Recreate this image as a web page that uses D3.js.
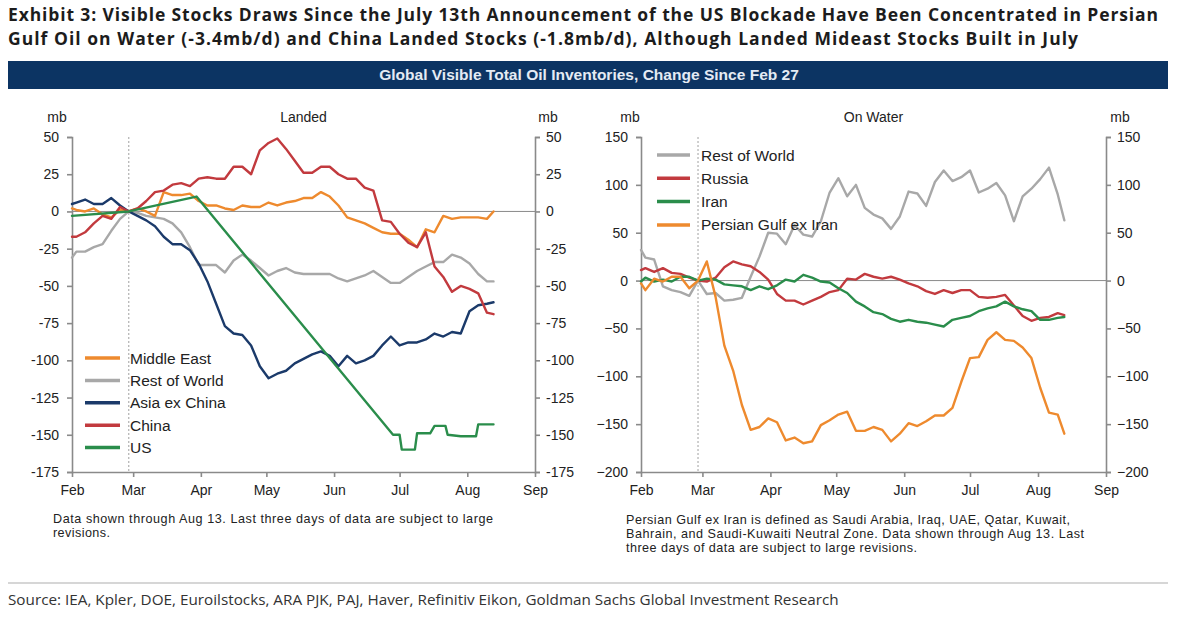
<!DOCTYPE html>
<meta charset="utf-8">
<script src="https://cdn.jsdelivr.net/npm/d3@7"></script>
<style>
  body { margin: 0; background: #fff; }
  svg text { font-family: "Liberation Sans", Arial, sans-serif; }
</style>
<svg id="chart" width="1200" height="628"></svg>
<script>
// ---- data (mb, change since Feb 27) ----
const gridDates = ["02-01","02-03","02-07","02-11","02-15","02-19","02-23","02-27",
  "03-03","03-07","03-11","03-15","03-19","03-23","03-27","03-31",
  "04-04","04-08","04-12","04-16","04-20","04-24","04-28","05-02",
  "05-06","05-10","05-14","05-18","05-22","05-26","05-30","06-03",
  "06-07","06-11","06-15","06-19","06-23","06-27","07-01","07-05",
  "07-09","07-13","07-17","07-21","07-25","07-29","08-02","08-06",
  "08-10","08-13"];

// Landed
const landedMiddleEast = [2,1,0,2,-2,-4,1,0,2,0,-3,13,11,11,12,7,4,4,2,1,4,3,3,6,4,6,7,9,9,13,10,4,-4,-6,-8,-11,-14,-15,-15,-19,-24,-12,-14,-3,-5,-4,-4,-4,-5,0];
const landedRestOfWorld = [-31,-27,-27,-24,-22,-13,-5,0,-1,-3,-4,-5,-8,-14,-24,-36,-36,-36,-41,-33,-29,-33,-38,-43,-40,-38,-41,-42,-42,-42,-42,-45,-47,-45,-43,-40,-44,-48,-48,-44,-40,-37,-34,-34,-29,-31,-35,-42,-47,-47];
const landedAsiaExChina = [5,6,8,5,5,9,4,0,-3,-6,-10,-17,-22,-22,-26,-35,-47,-62,-77,-82,-83,-90,-104,-112,-109,-107,-102,-99,-96,-94,-97,-104,-97,-102,-100,-97,-90,-84,-90,-88,-88,-86,-82,-84,-81,-82,-67,-63,-62,-61];
const landedChina = [-17,-17,-14,-8,-3,-5,3,0,2,7,13,14,18,19,17,22,23,22,22,30,30,25,41,46,49,42,34,26,26,30,30,25,22,22,16,14,-6,-7,-15,-21,-24,-14,-37,-44,-54,-50,-52,-55,-68,-69];
const usDates = ["02-01","02-27","03-30","06-28","07-01","07-02","07-08","07-09","07-15","07-17","07-22","07-23","07-29","08-05","08-06","08-13"];
const usValues = [-3,0,10,-150,-150,-160,-160,-149,-149,-144,-144,-150,-151,-151,-143,-143];

// On water
const waterRestOfWorld = [32,24,22,-6,-10,-12,-16,0,-14,-13,-21,-20,-18,4,25,50,49,38,58,48,46,62,92,107,88,100,76,69,65,54,67,93,91,78,103,115,104,108,115,92,96,102,89,62,88,96,106,118,90,63];
const waterRussia = [11,13,9,13,8,7,3,0,-1,3,14,20,17,15,9,1,-14,-21,-21,-25,-21,-17,-12,-10,2,1,7,4,2,4,1,-3,-6,-11,-14,-10,-13,-10,-10,-17,-18,-17,-15,-26,-37,-42,-39,-38,-34,-36];
const waterIran = [-1,3,-1,1,-1,4,4,0,2,1,-4,-5,-6,-10,-6,-9,-5,1,-1,6,3,-1,-2,-8,-13,-22,-27,-33,-35,-40,-43,-41,-43,-44,-46,-48,-41,-39,-37,-32,-29,-27,-22,-27,-30,-32,-41,-41,-39,-38];
const waterPersianGulf = [-3,-10,2,-1,4,4,-8,0,20,-17,-68,-94,-130,-156,-153,-144,-148,-167,-164,-170,-168,-151,-146,-140,-137,-157,-157,-153,-156,-168,-160,-149,-152,-147,-141,-141,-133,-106,-81,-80,-62,-54,-62,-63,-70,-81,-112,-138,-140,-160];

const monthTicks = ["02-01","03-01","04-01","05-01","06-01","07-01","08-01","09-01"];
const landedTicks = [50,25,0,-25,-50,-75,-100,-125,-150,-175];
const waterTicks = [150,100,50,0,-50,-100,-150,-200];
const baseDate = "02-27";

const titleLines = [
  "Exhibit 3: Visible Stocks Draws Since the July 13th Announcement of the US Blockade Have Been Concentrated in Persian",
  "Gulf Oil on Water (-3.4mb/d) and China Landed Stocks (-1.8mb/d), Although Landed Mideast Stocks Built in July"
];
const bannerText = "Global Visible Total Oil Inventories, Change Since Feb 27";
const landedNote = ["Data shown through Aug 13. Last three days of data are subject to large", "revisions."];
const waterNote = ["Persian Gulf ex Iran is defined as Saudi Arabia, Iraq, UAE, Qatar, Kuwait,",
  "Bahrain, and Saudi-Kuwaiti Neutral Zone. Data shown through Aug 13. Last",
  "three days of data are subject to large revisions."];
const sourceText = "Source: IEA, Kpler, DOE, Euroilstocks, ARA PJK, PAJ, Haver, Refinitiv Eikon, Goldman Sachs Global Investment Research";

const colors = {orange: "#ee8a2e", gray: "#a8a8a8", navy: "#1b3a6a", red: "#c23a3e", green: "#2a8d4b"};

// ---- helpers ----
const parse = d3.utcParse("%Y-%m-%d");
const toDate = s => parse("2026-" + s);
const svg = d3.select("#chart");

function fitText(sel, width) {
  const len = sel.node().getComputedTextLength();
  const fs = parseFloat(sel.attr("font-size"));
  sel.attr("font-size", (fs * width / len).toFixed(2));
}

// title: fixed size, stretched a little to the reference width
titleLines.forEach((t, i) => {
  svg.append("text")
    .attr("x", 8).attr("y", 21 + i * 24)
    .attr("font-size", 17.5).attr("font-weight", "bold")
    .attr("fill", "#1c1c1c")
    .attr("textLength", i === 0 ? 1150 : 1070).attr("lengthAdjust", "spacing")
    .style("font-family", "'Open Sans', 'Noto Sans', sans-serif")
    .text(t);
});

// banner
svg.append("rect").attr("x", 8).attr("y", 61).attr("width", 1160).attr("height", 28).attr("fill", "#0c3463");
const bt = svg.append("text").attr("x", 589).attr("y", 80)
  .attr("text-anchor", "middle").attr("font-size", 12.5).attr("font-weight", "bold")
  .attr("fill", "#e4ebf4").text(bannerText);
fitText(bt, 420);

// ---- panels ----
const panels = [
  {
    title: "Landed", x0: 72, x1: 535, domain: [-175, 50], ticks: landedTicks,
    fmt: d => String(d), mb: [57, 548],
    series: [
      {name: "Rest of World", color: colors.gray, dates: gridDates, values: landedRestOfWorld},
      {name: "Middle East", color: colors.orange, dates: gridDates, values: landedMiddleEast},
      {name: "Asia ex China", color: colors.navy, dates: gridDates, values: landedAsiaExChina},
      {name: "China", color: colors.red, dates: gridDates, values: landedChina},
      {name: "US", color: colors.green, dates: usDates, values: usValues}
    ],
    legendOrder: ["Middle East", "Rest of World", "Asia ex China", "China", "US"],
    legend: {x: 85, len: 35, tx: 130, y: 358, step: 22.4},
    note: landedNote, noteX: 53, noteY: 523, noteStep: 13.5, noteWidths: [440, 57]
  },
  {
    title: "On Water", x0: 641, x1: 1106, domain: [-200, 150], ticks: waterTicks,
    fmt: d => d < 0 ? "\u2212" + (-d) : String(d), mb: [630, 1120],
    series: [
      {name: "Rest of World", color: colors.gray, dates: gridDates, values: waterRestOfWorld},
      {name: "Russia", color: colors.red, dates: gridDates, values: waterRussia},
      {name: "Iran", color: colors.green, dates: gridDates, values: waterIran},
      {name: "Persian Gulf ex Iran", color: colors.orange, dates: gridDates, values: waterPersianGulf}
    ],
    legendOrder: ["Rest of World", "Russia", "Iran", "Persian Gulf ex Iran"],
    legend: {x: 657, len: 33, tx: 701, y: 155, step: 23.3},
    note: waterNote, noteX: 626, noteY: 524, noteStep: 14, noteWidths: [444, 458, 291]
  }
];

const yTop = 137, yBot = 472;
const axisColor = "#8a8a8a";

panels.forEach(p => {
  const x = d3.scaleUtc().domain([toDate("02-01"), toDate("09-01")]).range([p.x0, p.x1]);
  const y = d3.scaleLinear().domain(p.domain).range([yBot, yTop]);
  const g = svg.append("g");

  // headers
  g.append("text").attr("x", (p.x0 + p.x1) / 2).attr("y", 122).attr("text-anchor", "middle")
    .attr("font-size", 14).attr("fill", "#222").text(p.title);
  p.mb.forEach(mx => g.append("text").attr("x", mx).attr("y", 122).attr("text-anchor", "middle")
    .attr("font-size", 14).attr("fill", "#222").text("mb"));

  // zero line and base-date marker
  g.append("line").attr("x1", p.x0).attr("x2", p.x1).attr("y1", y(0)).attr("y2", y(0))
    .attr("stroke", axisColor).attr("stroke-width", 1);
  g.append("line").attr("x1", x(toDate(baseDate))).attr("x2", x(toDate(baseDate)))
    .attr("y1", yTop).attr("y2", yBot)
    .attr("stroke", "#a0a0a0").attr("stroke-width", 1).attr("stroke-dasharray", "2,2");

  // axes
  const styleAxis = a => {
    a.select(".domain").attr("stroke", axisColor).attr("stroke-width", 1.6);
    a.selectAll(".tick line").attr("stroke", axisColor).attr("stroke-width", 1.6);
    a.selectAll("text").attr("fill", "#222").attr("font-size", 14)
      .style("font-family", "'Liberation Sans', Arial, sans-serif");
  };
  g.append("g").attr("transform", `translate(${p.x0},0)`)
    .call(d3.axisLeft(y).tickValues(p.ticks).tickFormat(p.fmt).tickSize(5).tickPadding(8).tickSizeOuter(5))
    .call(styleAxis);
  g.append("g").attr("transform", `translate(${p.x1},0)`)
    .call(d3.axisRight(y).tickValues(p.ticks).tickFormat(p.fmt).tickSize(5).tickPadding(6).tickSizeOuter(5))
    .call(styleAxis);
  g.append("g").attr("transform", `translate(0,${yBot})`)
    .call(d3.axisBottom(x).tickValues(monthTicks.map(toDate)).tickFormat(d3.utcFormat("%b"))
      .tickSize(5).tickPadding(8).tickSizeOuter(0))
    .call(styleAxis);

  // lines
  const line = d3.line().x(d => x(d[0])).y(d => y(d[1]));
  p.series.forEach(s => {
    const pts = s.dates.map((d, i) => [toDate(d), s.values[i]]);
    g.append("path").datum(pts).attr("d", line)
      .attr("fill", "none").attr("stroke", s.color).attr("stroke-width", 2.4)
      .attr("stroke-linejoin", "round").attr("stroke-linecap", "round");
  });

  // legend
  p.legendOrder.forEach((name, i) => {
    const s = p.series.find(v => v.name === name);
    const ly = p.legend.y + i * p.legend.step;
    g.append("line").attr("x1", p.legend.x).attr("x2", p.legend.x + p.legend.len)
      .attr("y1", ly).attr("y2", ly).attr("stroke", s.color).attr("stroke-width", 3.5);
    g.append("text").attr("x", p.legend.tx).attr("y", ly).attr("dy", "0.36em")
      .attr("font-size", 15.5).attr("fill", "#222").text(name);
  });

  // footnote
  p.note.forEach((t, i) => {
    g.append("text").attr("x", p.noteX).attr("y", p.noteY + i * p.noteStep)
      .attr("font-size", 12.6).attr("fill", "#222")
      .attr("textLength", p.noteWidths[i]).attr("lengthAdjust", "spacing")
      .text(t);
  });
});

// source
svg.append("line").attr("x1", 8).attr("x2", 1168).attr("y1", 583).attr("y2", 583)
  .attr("stroke", "#c8c8c8").attr("stroke-width", 1.5);
const st = svg.append("text").attr("x", 8).attr("y", 605).attr("font-size", 13.5)
  .attr("fill", "#333").style("font-family", "'Open Sans', 'Noto Sans', sans-serif").text(sourceText);
fitText(st, 831);
</script>
